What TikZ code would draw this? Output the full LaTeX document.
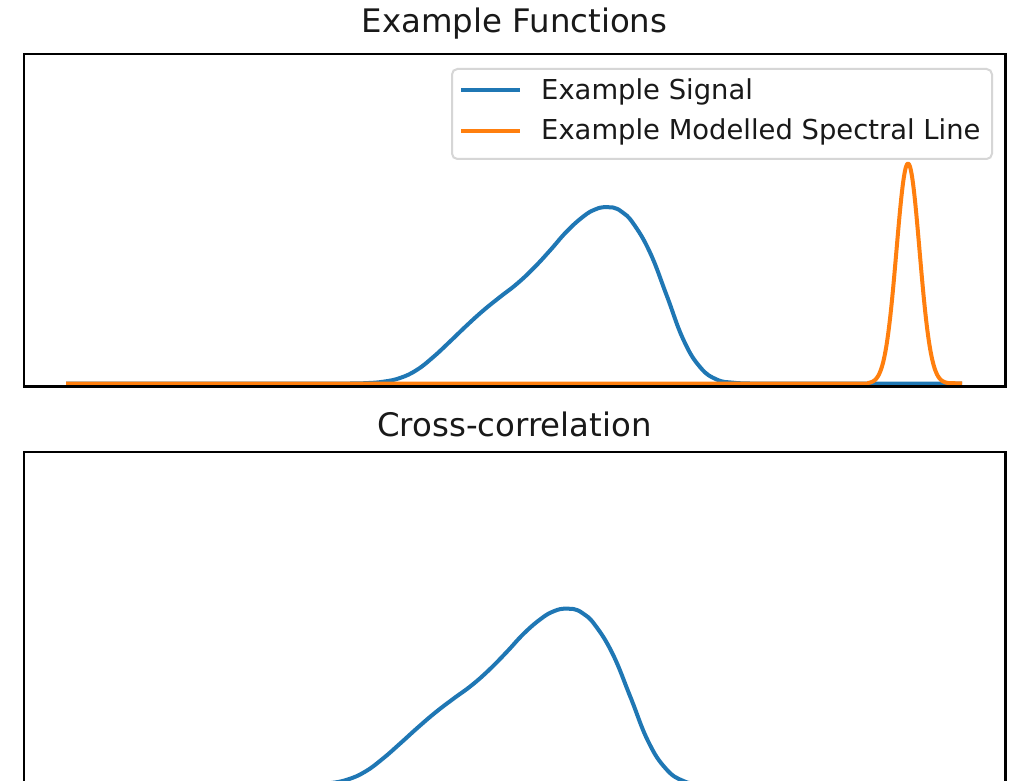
\documentclass[tikz,border=0pt]{standalone}
\usepackage{fontspec}
\setmainfont{DejaVu Sans}
\definecolor{mplblue}{HTML}{1F77B4}
\definecolor{mplorange}{HTML}{FF7F0E}
\definecolor{legframe}{HTML}{D6D6D6}
\begin{document}
\begin{tikzpicture}[x=1pt,y=-1pt,
  spine/.style={draw=black,line width=2.2pt},
  curve/.style={line width=4pt,line join=round},
  titletext/.style={font=\fontsize{32.4}{38}\selectfont,anchor=base,inner sep=0pt,text=black!90},
  legtext/.style={font=\fontsize{27.4}{32}\selectfont,anchor=base west,inner sep=0pt,text=black!90},
  legframestyle/.style={draw=legframe,fill=white,fill opacity=0.8,line width=2pt,rounded corners=5.4pt}]
\useasboundingbox (0,0) rectangle (1013,781);
\clip (0,0) rectangle (1013,781);
\fill[white] (0,0) rectangle (1013,781);

% ---------- top axes ----------
\node[titletext] (title1) at (514.5,33) {Example Functions};

\begin{scope}[shift={(605,383.5)},yscale=-1]
  \draw[curve,mplblue] (-539,0) -- (-255,0) -- plot[smooth,tension=0.75] coordinates {
    (-255,0) (-238.3,0.4) (-221.7,1.8) (-205,5.5) (-188.3,13.5) (-171.7,26.5)
    (-155,42) (-138.3,58) (-121.7,73) (-105,86.5) (-88.3,99.5) (-71.7,115)
    (-55,133) (-38.3,152) (-21.7,167) (-10,174) (0,176.5) (8,176) (17,171.5) (28.3,160)
    (45,131) (61.7,88) (78.3,44) (95,16.5) (111.7,4) (128.3,0.8) (145,0)}
    -- (357,0);
\end{scope}
\begin{scope}[shift={(908,383.5)},yscale=-1]
  \draw[curve,mplorange] (-842,0) -- (-40,0) --
    plot[domain=-40:40,samples=81,smooth] (\x,{220*exp(-\x*\x/264.5)}) -- (54,0);
\end{scope}

\draw[spine] (24,54) rectangle (1005.5,386.5);

% legend
\draw[legframestyle] (452,69) rectangle (992,159);
\coordinate (h1a) at (461,90);
\coordinate (h1b) at (520,90);
\coordinate (h2a) at (461,131);
\coordinate (h2b) at (520,131);
\draw[curve,mplblue] (h1a) -- (h1b);
\draw[curve,mplorange] (h2a) -- (h2b);
\node[legtext] (leg1) at (541,99.3) {Example Signal};
\node[legtext] (leg2) at (541,140) {Example Modelled Spectral Line};

% ---------- bottom axes ----------
\node[titletext] (title2) at (514.5,436) {Cross-correlation};

\begin{scope}[shift={(565,785)},xscale=1.06,yscale=-1]
  \draw[curve,mplblue] (-471,0) -- (-255,0) -- plot[smooth,tension=0.75] coordinates {
    (-255,0) (-238.3,0.4) (-221.7,1.8) (-205,5.5) (-188.3,13.5) (-171.7,26.5)
    (-155,42) (-138.3,58) (-121.7,73) (-105,86.5) (-88.3,99.5) (-71.7,115)
    (-55,133) (-38.3,152) (-21.7,167) (-10,174) (0,176.5) (8,176) (17,171.5) (28.3,160)
    (45,131) (61.7,88) (78.3,44) (95,16.5) (111.7,4) (128.3,0.8) (145,0)}
    -- (375,0);
\end{scope}

\draw[spine] (24,452) rectangle (1005.5,790);
\end{tikzpicture}
\end{document}
